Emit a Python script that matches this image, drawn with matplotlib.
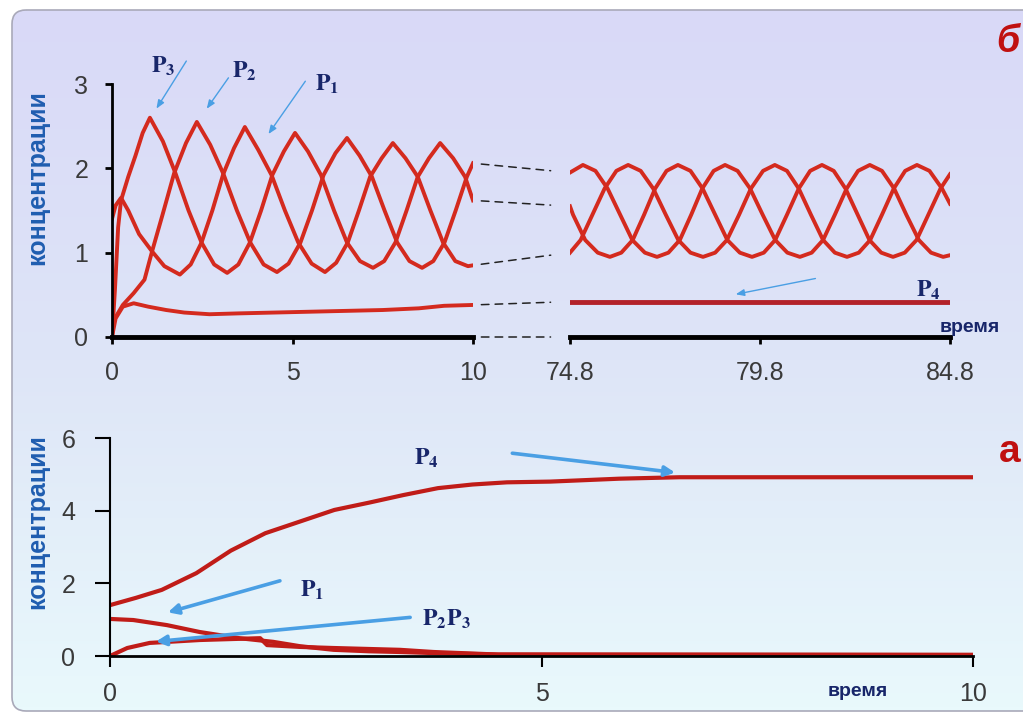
import numpy as np
import matplotlib
matplotlib.use("Agg")
import matplotlib.pyplot as plt
from matplotlib.patches import FancyBboxPatch, ConnectionPatch

plt.rcParams['mathtext.fontset'] = 'stix'
plt.rcParams['font.family'] = ['Liberation Sans', 'DejaVu Sans']

# ---- data: panel "б", first 10 time units ----
t_p1 = [0, 0.1, 0.25, 0.45, 0.75, 1.1, 1.45, 1.88, 2.18, 2.48, 2.78, 3.08, 3.38, 3.68,
        4.05, 4.42, 4.79, 5.16, 5.53, 5.90, 6.21, 6.53, 6.84, 7.15, 7.47, 7.78,
        8.13, 8.47, 8.82, 9.17, 9.51, 9.86, 10.0]
p1 = [1.40, 1.56, 1.65, 1.50, 1.22, 1.02, 0.84, 0.74, 0.86, 1.12, 1.50, 1.93, 2.24, 2.49,
      2.22, 1.92, 1.50, 1.12, 0.87, 0.77, 0.88, 1.12, 1.50, 1.90, 2.12, 2.30,
      2.12, 1.90, 1.50, 1.12, 0.90, 0.84, 0.85]

t_p2 = [0, 0.05, 0.3, 0.6, 0.9, 1.1, 1.4, 1.72, 2.05, 2.35, 2.72, 3.09, 3.46, 3.83, 4.20, 4.57,
        4.89, 5.22, 5.54, 5.86, 6.19, 6.51, 6.86, 7.20, 7.55, 7.90, 8.24, 8.59,
        8.90, 9.21, 9.52, 9.83, 10.0]
p2 = [0.0, 0.2, 0.38, 0.52, 0.68, 1.0, 1.45, 1.94, 2.30, 2.55, 2.28, 1.93, 1.50, 1.12, 0.86, 0.77,
      0.87, 1.12, 1.50, 1.92, 2.18, 2.36, 2.15, 1.90, 1.50, 1.12, 0.90, 0.82,
      0.90, 1.12, 1.50, 1.90, 2.06]

t_p3 = [0, 0.08, 0.17, 0.25, 0.45, 0.65, 0.85, 1.05, 1.41, 1.76, 2.12, 2.48, 2.83, 3.19,
        3.50, 3.82, 4.13, 4.44, 4.76, 5.07, 5.43, 5.79, 6.15, 6.51, 6.87, 7.23,
        7.54, 7.85, 8.16, 8.47, 8.78, 9.09, 9.45, 9.78, 10.0]
p3 = [0.0, 0.55, 1.30, 1.62, 1.90, 2.15, 2.42, 2.60, 2.32, 1.94, 1.50, 1.12, 0.86, 0.76,
      0.86, 1.12, 1.50, 1.92, 2.20, 2.42, 2.20, 1.92, 1.50, 1.12, 0.90, 0.82,
      0.90, 1.12, 1.50, 1.90, 2.12, 2.30, 2.12, 1.90, 1.62]

t_p4 = [0, 0.1, 0.3, 0.6, 1.0, 1.5, 2.0, 2.7, 3.5, 4.5, 5.5, 6.5, 7.5, 8.5, 9.2, 10.0]
p4 = [0.0, 0.22, 0.36, 0.40, 0.36, 0.32, 0.29, 0.27, 0.28, 0.29, 0.30, 0.31, 0.32, 0.34, 0.37, 0.38]

# ---- data: panel "б", 74.8 .. 84.8 ----
rt_p1 = [74.8, 75.08, 75.39, 75.71, 76.02, 76.33, 76.66, 76.99, 77.32, 77.65, 77.97, 78.30,
         78.62, 78.93, 79.25, 79.56, 79.88, 80.19, 80.51, 80.82, 81.14, 81.46, 81.77, 82.09,
         82.40, 82.70, 83.01, 83.32, 83.62, 83.93, 84.26, 84.59, 84.8]
r_p1 = [1.00, 1.15, 1.45, 1.76, 1.97, 2.04, 1.97, 1.76, 1.45, 1.15, 1.00, 0.95,
        1.00, 1.15, 1.45, 1.76, 1.97, 2.04, 1.97, 1.76, 1.45, 1.15, 1.00, 0.95,
        1.00, 1.15, 1.45, 1.76, 1.97, 2.04, 1.97, 1.76, 1.58]

rt_p2 = [74.8, 75.14, 75.47, 75.79, 76.12, 76.44, 76.77, 77.09, 77.39, 77.69, 77.99, 78.28,
         78.58, 78.88, 79.21, 79.54, 79.87, 80.20, 80.52, 80.85, 81.16, 81.46, 81.77, 82.08,
         82.38, 82.69, 83.01, 83.33, 83.65, 83.98, 84.30, 84.62, 84.8]
r_p2 = [1.95, 2.04, 1.97, 1.76, 1.45, 1.15, 1.00, 0.95, 1.00, 1.15, 1.45, 1.76,
        1.97, 2.04, 1.97, 1.76, 1.45, 1.15, 1.00, 0.95, 1.00, 1.15, 1.45, 1.76,
        1.97, 2.04, 1.97, 1.76, 1.45, 1.15, 1.00, 0.95, 0.97]

rt_p3 = [74.8, 74.88, 75.20, 75.53, 75.85, 76.15, 76.45, 76.75, 77.04, 77.34, 77.64, 77.97,
         78.29, 78.62, 78.94, 79.27, 79.59, 79.90, 80.20, 80.51, 80.82, 81.12, 81.43, 81.74,
         82.05, 82.37, 82.68, 82.99, 83.30, 83.61, 83.92, 84.23, 84.55, 84.8]
r_p3 = [1.55, 1.45, 1.15, 1.00, 0.95, 1.00, 1.15, 1.45, 1.76, 1.97, 2.04, 1.97,
        1.76, 1.45, 1.15, 1.00, 0.95, 1.00, 1.15, 1.45, 1.76, 1.97, 2.04, 1.97,
        1.76, 1.45, 1.15, 1.00, 0.95, 1.00, 1.15, 1.45, 1.76, 1.93]

rt_p4 = [74.8, 84.8]
r_p4 = [0.42, 0.42]

# ---- data: panel "а" ----
b_t4 = [0, 0.3, 0.6, 1.0, 1.4, 1.8, 2.2, 2.6, 3.0, 3.4, 3.8, 4.2, 4.6, 5.1, 5.9, 6.6, 10.0]
b_p4 = [1.40, 1.60, 1.82, 2.28, 2.90, 3.38, 3.70, 4.02, 4.22, 4.43, 4.62, 4.72, 4.78, 4.80,
        4.88, 4.92, 4.92]
b_t1 = [0, 0.27, 0.66, 1.04, 1.5, 1.89, 2.2, 2.59, 3.0, 3.36, 3.75, 4.5, 10.0]
b_p1 = [1.02, 0.99, 0.85, 0.66, 0.49, 0.39, 0.27, 0.17, 0.13, 0.11, 0.08, 0.04, 0.03]
b_t23 = [0, 0.2, 0.46, 1.04, 1.74, 1.82, 2.2, 2.59, 3.36, 3.75, 4.5, 10.0]
b_p23 = [0.0, 0.22, 0.36, 0.44, 0.49, 0.30, 0.25, 0.22, 0.17, 0.11, 0.04, 0.03]

W, H = 1023, 716
RED = '#d42a1e'
DRED = '#c01c18'
NAVY = '#18266a'
ARROW = '#4a9fe4'
TICK = '#3a3a3a'


def rect(x0, y0, x1, y1):
    # pixel box (top-left origin) -> figure fraction
    return [x0 / W, 1 - y1 / H, (x1 - x0) / W, (y1 - y0) / H]


fig = plt.figure(figsize=(W / 100, H / 100), dpi=100)
fig.patch.set_facecolor('white')

# background gradient inside a rounded frame
bg = fig.add_axes([0, 0, 1, 1], zorder=-10)
bg.set_xlim(0, W)
bg.set_ylim(H, 0)
bg.axis('off')
ys = np.linspace(0, 1, 200)
stops = [0.0, 0.5, 1.0]
cols = np.array([[217, 217, 247], [222, 229, 247], [233, 249, 252]]) / 255
grad = np.stack([np.interp(ys, stops, cols[:, k]) for k in range(3)], axis=1)[:, None, :]
im = bg.imshow(grad, extent=[12, W + 40, 711, 10], aspect='auto')
frame = FancyBboxPatch((12, 10), W + 30, 701, boxstyle='round,pad=0,rounding_size=14',
                       fc='none', ec='#a9a9b9', lw=1.2)
bg.add_patch(frame)
im.set_clip_path(frame)


def style(ax, left=True):
    ax.patch.set_alpha(0)
    for s in ['top', 'right']:
        ax.spines[s].set_visible(False)
    if not left:
        ax.spines['left'].set_visible(False)
    ax.tick_params(labelsize=18, labelcolor=TICK, direction='out', color='k')


# ---- top left ----
ax1 = fig.add_axes(rect(112, 84, 473, 337))
style(ax1)
for t, v in [(t_p1, p1), (t_p2, p2), (t_p3, p3), (t_p4, p4)]:
    ax1.plot(t, v, color=RED, lw=2.8, solid_joinstyle='round')
ax1.set_xlim(0, 10)
ax1.set_ylim(0, 3)
ax1.set_xticks([0, 5, 10])
ax1.set_yticks([0, 1, 2, 3])
ax1.spines['left'].set_linewidth(2)
ax1.spines['bottom'].set_linewidth(3.5)
ax1.tick_params(axis='y', length=5, width=2, pad=12)
ax1.tick_params(axis='x', length=5, width=2, pad=12)

# ---- top right ----
ax2 = fig.add_axes(rect(570, 84, 950, 337))
style(ax2, left=False)
for t, v in [(rt_p1, r_p1), (rt_p2, r_p2), (rt_p3, r_p3)]:
    ax2.plot(t, v, color=RED, lw=2.8, solid_joinstyle='round')
ax2.plot(rt_p4, r_p4, color='#b3222a', lw=3.5)
ax2.set_xlim(74.8, 84.8)
ax2.set_ylim(0, 3)
ax2.set_yticks([])
ax2.set_xticks([74.8, 79.8, 84.8])
ax2.set_xticklabels(['74.8', '79.8', '84.8'])
ax2.spines['bottom'].set_linewidth(3.5)
ax2.tick_params(axis='x', length=5, width=2, pad=12)

# dashed links between the two time windows
ends_l = sorted([p1[-1], p2[-1], p3[-1], p4[-1], 0.0])
ends_r = sorted([r_p1[0], r_p2[0], r_p3[0], r_p4[0], 0.0])
for a, b in zip(ends_l, ends_r):
    con = ConnectionPatch(xyA=(10, a), coordsA=ax1.transData, xyB=(74.8, b),
                          coordsB=ax2.transData, shrinkA=6, shrinkB=14,
                          color='#222222', lw=1.1, linestyle=(0, (5, 4)))
    fig.add_artist(con)

# labels top panel
lab = dict(color=NAVY, fontsize=17, ha='center', va='center')
arr_thin = dict(arrowstyle='-|>,head_length=0.5,head_width=0.2', color=ARROW, lw=1)
ax1.annotate('', xy=(1.19, 2.68), xytext=(2.1, 3.3), arrowprops=arr_thin, annotation_clip=False)
ax1.annotate('', xy=(2.58, 2.68), xytext=(3.27, 3.1), arrowprops=arr_thin, annotation_clip=False)
ax1.annotate('', xy=(4.29, 2.38), xytext=(5.4, 3.06), arrowprops=arr_thin, annotation_clip=False)
ax1.text(1.41, 3.21, r'$\mathbf{P_3}$', clip_on=False, **lab)
ax1.text(3.68, 3.15, r'$\mathbf{P_2}$', clip_on=False, **lab)
ax1.text(5.96, 3.0, r'$\mathbf{P_1}$', clip_on=False, **lab)
ax2.annotate('', xy=(79.09, 0.5), xytext=(81.33, 0.70), arrowprops=arr_thin)
ax2.text(84.22, 0.55, r'$\mathbf{P_4}$', **lab)
ax2.text(85.33, 0.11, 'время', color=NAVY, fontsize=14, fontweight='bold',
         ha='center', va='center', clip_on=False)

# ---- bottom ----
ax3 = fig.add_axes(rect(110, 438, 973, 656))
style(ax3)
ax3.plot(b_t4, b_p4, color=DRED, lw=3)
ax3.plot(b_t1, b_p1, color=DRED, lw=3)
ax3.plot(b_t23, b_p23, color=DRED, lw=3)
ax3.set_xlim(0, 10)
ax3.set_ylim(0, 6)
ax3.set_xticks([0, 5, 10])
ax3.set_yticks([0, 2, 4, 6])
ax3.spines['left'].set_linewidth(1.5)
ax3.spines['bottom'].set_linewidth(2)
ax3.tick_params(axis='y', length=11, width=1.5, pad=14)
ax3.tick_params(axis='x', length=8, width=1.5, pad=11)

arr_thick = dict(arrowstyle='-|>,head_length=0.6,head_width=0.3', color=ARROW, lw=2.6)
ax3.annotate('', xy=(6.58, 5.04), xytext=(4.63, 5.59), arrowprops=arr_thick)
ax3.annotate('', xy=(0.64, 1.18), xytext=(2.0, 2.09), arrowprops=arr_thick)
ax3.annotate('', xy=(0.5, 0.39), xytext=(3.51, 1.07), arrowprops=arr_thick)
ax3.text(3.67, 5.45, r'$\mathbf{P_4}$', **lab)
ax3.text(2.34, 1.82, r'$\mathbf{P_1}$', **lab)
ax3.text(3.9, 1.0, r'$\mathbf{P_2P_3}$', **lab)
ax3.text(8.66, -0.98, 'время', color=NAVY, fontsize=14, fontweight='bold',
         ha='center', va='center', clip_on=False)

# axis titles and panel letters
ylab = dict(rotation=90, color='#1f5db0', fontsize=18, fontweight='bold',
            ha='center', va='center')
fig.text(37 / W, 1 - 178 / H, 'концентрации', **ylab)
fig.text(37 / W, 1 - 522 / H, 'концентрации', **ylab)
fig.text(996 / W, 1 - 42 / H, 'б', color='#c01010', fontsize=27, fontweight='bold',
         fontstyle='italic', ha='left', va='center')
fig.text(999 / W, 1 - 452 / H, 'а', color='#c01010', fontsize=28, fontweight='bold',
         ha='left', va='center')

fig.savefig('out.png', dpi=100)
